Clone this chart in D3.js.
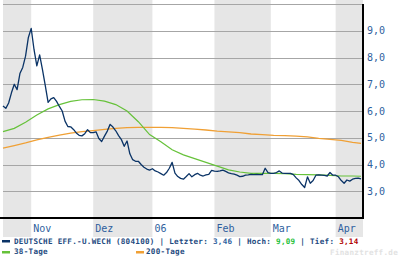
<!DOCTYPE html>
<html>
<head>
<meta charset="utf-8">
<script src="https://cdn.jsdelivr.net/npm/d3@7"></script>
<style>
  html, body { margin: 0; padding: 0; background: #fff; }
  svg { display: block; }
  text { font-family: "DejaVu Sans Mono", monospace; }
</style>
</head>
<body>
<div id="chart"></div>
<script>
// price per trading day, Oct 2005 .. Apr 2006
const price = [
  6.19, 6.10, 6.30, 6.68, 7.00, 6.80, 7.40, 7.63, 8.05, 8.75,
  9.09, 8.30, 7.69, 8.10, 7.55, 6.95, 6.32, 6.45, 6.50, 6.36,
  6.17, 6.00, 5.62, 5.42, 5.41, 5.31, 5.18, 5.09, 5.07, 5.15,
  5.30, 5.19, 5.19, 5.22, 4.97, 4.86, 5.06, 5.25, 5.50, 5.40,
  5.26, 5.08, 4.93, 4.68, 4.88, 4.40, 4.18, 4.12, 4.12, 4.00,
  3.90, 3.83, 3.79, 3.84, 3.76, 3.72, 3.66, 3.60, 3.70, 3.86,
  4.08, 3.68, 3.55, 3.48, 3.45, 3.55, 3.66, 3.54, 3.62, 3.67,
  3.60, 3.57, 3.61, 3.63, 3.78, 3.75, 3.74, 3.76, 3.79, 3.74,
  3.69, 3.66, 3.64, 3.60, 3.55, 3.56, 3.60, 3.61, 3.63, 3.62,
  3.63, 3.62, 3.62, 3.86, 3.70, 3.67, 3.67, 3.70, 3.76, 3.68,
  3.67, 3.67, 3.67, 3.62, 3.50, 3.40, 3.25, 3.14, 3.54, 3.30,
  3.40, 3.60, 3.61, 3.60, 3.59, 3.57, 3.70, 3.60, 3.60, 3.54,
  3.40, 3.30, 3.42, 3.38, 3.45, 3.48, 3.49, 3.46
];

// moving averages, read every 4th trading day
const maDays = [0, 4, 8, 12, 16, 20, 24, 28, 32, 36, 40, 44, 48, 52, 56, 60,
  64, 68, 72, 76, 80, 84, 88, 92, 96, 100, 104, 108, 112, 116, 120, 124, 127];
const ma38 = [5.23, 5.35, 5.58, 5.85, 6.08, 6.24, 6.36, 6.42, 6.43, 6.37, 6.24,
  6.00, 5.60, 5.12, 4.85, 4.55, 4.36, 4.22, 4.08, 3.94, 3.80, 3.72, 3.67, 3.67,
  3.67, 3.66, 3.63, 3.62, 3.61, 3.59, 3.57, 3.57, 3.56];
const ma200 = [4.61, 4.71, 4.81, 4.92, 5.01, 5.10, 5.17, 5.23, 5.27, 5.31, 5.35,
  5.38, 5.39, 5.39, 5.39, 5.38, 5.35, 5.32, 5.29, 5.25, 5.22, 5.19, 5.14, 5.12,
  5.09, 5.08, 5.06, 5.03, 4.98, 4.94, 4.90, 4.83, 4.79];

// month boundaries as trading-day index
const monthStarts = [0, 10, 32, 53, 75, 95, 118];
const monthLabels = ["", "Nov", "Dez", "06", "Feb", "Mar", "Apr"];
const yTicks = [3, 4, 5, 6, 7, 8, 9];
const gridValues = [3, 4, 5, 6, 7, 8, 9, 10];

const legendName = "DEUTSCHE EFF.-U.WECH (804100)";
const lastValue = "3,46", highValue = "9,09", lowValue = "3,14";

const W = 400, H = 258;
const plotL = 3, plotR = 363, plotT = 4, plotB = 218;
const nDays = 127.7;

const navy = "#0a3366", green = "#66c23a", orange = "#f0a035";
const textBlue = "#2f5f9e", legendBlue = "#1d4a80";

const svg = d3.select("#chart").append("svg")
  .attr("width", W).attr("height", H);

const x = d3.scaleLinear().domain([0, nDays]).range([plotL, plotR]);
const y = d3.scaleLinear().domain([2, 10]).range([plotB, plotT]);

// shaded months (every other month)
const bands = monthStarts.map((s, i) => ({
  start: s, end: i < monthStarts.length - 1 ? monthStarts[i + 1] : nDays, i
}));
svg.append("g").selectAll("rect")
  .data(bands.filter(d => d.i % 2 === 0))
  .join("rect")
  .attr("x", d => x(d.start))
  .attr("y", 0)
  .attr("width", d => x(d.end) - x(d.start))
  .attr("height", 237)
  .attr("fill", "#e6e6e6");

// horizontal grid
svg.append("g").selectAll("line")
  .data(gridValues)
  .join("line")
  .attr("x1", plotL).attr("x2", plotR)
  .attr("y1", d => Math.round(y(d)) + 0.5)
  .attr("y2", d => Math.round(y(d)) + 0.5)
  .attr("stroke", "#a6a6a6")
  .attr("stroke-width", 1);

// right axis labels
const yAxis = d3.axisRight(y).tickValues(yTicks).tickSize(0).tickPadding(4)
  .tickFormat(d => d3.format(".1f")(d).replace(".", ","));
svg.append("g")
  .attr("transform", `translate(${plotR},0)`)
  .call(yAxis)
  .call(g => g.select(".domain").remove())
  .selectAll("text")
  .attr("fill", textBlue)
  .style("font-size", "10px")
  .style("font-family", "'DejaVu Sans Mono', monospace");

// month labels
svg.append("g").selectAll("text")
  .data(bands.filter(d => monthLabels[d.i]))
  .join("text")
  .attr("x", d => x(d.start) + 2)
  .attr("y", 232)
  .attr("fill", textBlue)
  .style("font-size", "10px")
  .text(d => monthLabels[d.i]);

// lines
const maLine = vals => d3.line()
  .x((d, i) => x(maDays[i]))
  .y(d => y(d))(vals);

svg.append("path")
  .attr("d", maLine(ma200))
  .attr("fill", "none").attr("stroke", orange).attr("stroke-width", 1.3);

svg.append("path")
  .attr("d", maLine(ma38))
  .attr("fill", "none").attr("stroke", green).attr("stroke-width", 1.2);

svg.append("path")
  .attr("d", d3.line().x((d, i) => x(i)).y(d => y(d))(price))
  .attr("fill", "none").attr("stroke", navy).attr("stroke-width", 1.3)
  .attr("stroke-linejoin", "round");

// axis frame
svg.append("line")
  .attr("x1", 0).attr("x2", plotR + 1)
  .attr("y1", plotB).attr("y2", plotB)
  .attr("stroke", "#000").attr("stroke-width", 2);
svg.append("line")
  .attr("x1", plotR).attr("x2", plotR)
  .attr("y1", plotT).attr("y2", plotB)
  .attr("stroke", "#000").attr("stroke-width", 2);

// legend
const legend = svg.append("g")
  .style("font-size", "7.6px")
  .style("font-weight", "bold")
  .style("letter-spacing", "0.28px");

legend.append("rect").attr("x", 2).attr("y", 240).attr("width", 8).attr("height", 2.5).attr("fill", navy);
const t1 = legend.append("text").attr("x", 14).attr("y", 244).attr("fill", legendBlue);
t1.append("tspan").text(legendName + " | Letzter: ");
t1.append("tspan").attr("fill", textBlue).text(lastValue);
t1.append("tspan").text(" | Hoch: ");
t1.append("tspan").attr("fill", "#1fbf3a").text(highValue);
t1.append("tspan").text(" | Tief: ");
t1.append("tspan").attr("fill", "#b00000").text(lowValue);

legend.append("rect").attr("x", 2).attr("y", 251).attr("width", 8).attr("height", 2.5).attr("fill", green);
legend.append("text").attr("x", 14).attr("y", 254).attr("fill", legendBlue).text("38-Tage");
legend.append("rect").attr("x", 136).attr("y", 251).attr("width", 8).attr("height", 2.5).attr("fill", orange);
legend.append("text").attr("x", 146).attr("y", 254).attr("fill", legendBlue).text("200-Tage");

svg.append("text")
  .attr("x", 398).attr("y", 255)
  .attr("text-anchor", "end")
  .attr("fill", "#e2e2e2")
  .style("font-size", "7.6px")
  .style("font-weight", "bold")
  .style("letter-spacing", "0.28px")
  .text("Finanztreff.de");
</script>
</body>
</html>
